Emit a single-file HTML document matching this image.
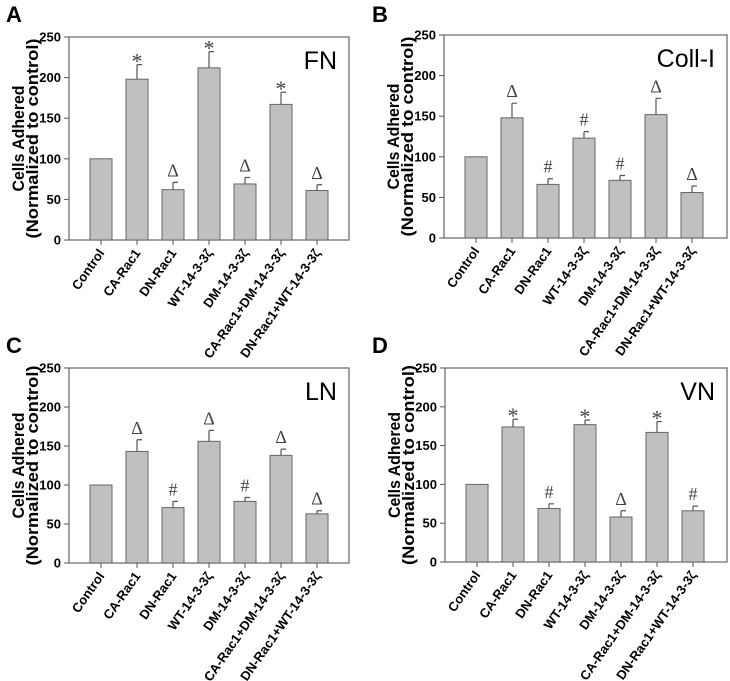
<!DOCTYPE html>
<html><head><meta charset="utf-8">
<style>
body{margin:0;background:#fff;}
svg{display:block;font-family:"Liberation Sans",Arial,sans-serif;}
</style></head>
<body>
<svg id="fig" width="730" height="681" viewBox="0 0 730 681"></svg>
<script>
const categories=["Control","CA-Rac1","DN-Rac1","WT-14-3-3ζ","DM-14-3-3ζ","CA-Rac1+DM-14-3-3ζ","DN-Rac1+WT-14-3-3ζ"];
const valuesA=[100,198,62,212,69,167,61];
const errorsA=[0,18,9,20,8,15,7];
const marksA=["","*","Δ","*","Δ","*","Δ"];
const valuesB=[100,148,66,123,71,152,56];
const errorsB=[0,18,7,8,6,20,8];
const marksB=["","Δ","#","#","#","Δ","Δ"];
const valuesC=[100,143,71,156,79,138,63];
const errorsC=[0,15,8,14,5,8,4];
const marksC=["","Δ","#","Δ","#","Δ","Δ"];
const valuesD=[100,174,69,177,58,167,66];
const errorsD=[0,10,6,6,8,14,6];
const marksD=["","*","#","*","Δ","*","#"];
const yTicks=[0,50,100,150,200,250];

const NS="http://www.w3.org/2000/svg";
const svg=document.getElementById('fig');
function mk(tag,attrs,parent,text){const e=document.createElementNS(NS,tag);for(const k in attrs)e.setAttribute(k,attrs[k]);if(text!==undefined)e.textContent=text;(parent||svg).appendChild(e);return e;}

const panels=[
 {id:"a",letter:"A",lx:6,ly:22,x0:69,x1:349,y0:37,y1:240,vals:valuesA,errs:errorsA,marks:marksA,label:"FN"},
 {id:"b",letter:"B",lx:372,ly:22,x0:444,x1:727,y0:35,y1:238,vals:valuesB,errs:errorsB,marks:marksB,label:"Coll-I"},
 {id:"c",letter:"C",lx:6,ly:353,x0:69,x1:349,y0:368,y1:563,vals:valuesC,errs:errorsC,marks:marksC,label:"LN"},
 {id:"d",letter:"D",lx:372,ly:353,x0:445,x1:727,y0:368,y1:562,vals:valuesD,errs:errorsD,marks:marksD,label:"VN"}
];

panels.forEach(p=>{
 const g=mk('g',{});
 
 
 const y=v=>p.y1-(v/250)*(p.y1-p.y0);
 const xc=i=>p.x0+32+i*36;
 const L=mk('text',{x:p.lx,y:p.ly,'font-size':22,'font-weight':'bold'},g,p.letter);
 
 
 const box=mk('rect',{x:p.x0,y:p.y0,width:p.x1-p.x0,height:p.y1-p.y0,fill:'none',stroke:'#707070','stroke-width':1.3},g);
 
 
 yTicks.forEach(t=>{
  mk('line',{x1:p.x0-5,x2:p.x0,y1:y(t),y2:y(t),stroke:'#555'},g);
  const tt=mk('text',{x:p.x0-8,y:y(t)+4.5,'font-size':13,'font-weight':'bold','text-anchor':'end'},g,t);
  
  
 });
 const cy=(p.y0+p.y1)/2;
 const t1=mk('text',{x:0,y:0,'font-size':17,'font-weight':'bold','text-anchor':'middle',textLength:106,lengthAdjust:'spacingAndGlyphs',transform:`translate(${p.x0-45},${cy}) rotate(-90)`},g,"Cells Adhered");
 
 
 const t2=mk('text',{x:0,y:0,'font-size':17,'font-weight':'bold','text-anchor':'middle',textLength:200,lengthAdjust:'spacingAndGlyphs',transform:`translate(${p.x0-31},${cy}) rotate(-90)`},g,"(Normalized to control)");
 
 
 const lab=mk('text',{x:p.x1-12,y:p.y0+32,'font-size':25,'text-anchor':'end'},g,p.label);
 
 
 p.vals.forEach((v,i)=>{
  const cx=xc(i);
  const b=mk('rect',{x:cx-11,y:y(v),width:22,height:p.y1-y(v),fill:'#c0c0c0',stroke:'#666','stroke-width':1},g);
  
  
  const e=p.errs[i];
  if(e>0){
   const el=mk('path',{d:`M${cx},${y(v)} V${y(v+e)} M${cx},${y(v+e)} H${cx+5}`,stroke:'#555','stroke-width':1.2,fill:'none'},g);
   
   
  }
  mk('line',{x1:cx,x2:cx,y1:p.y1,y2:p.y1+5,stroke:'#555'},g);
  if(p.marks[i]){
   const m=p.marks[i];
   const my=y(v+e)-(m==='*'?4:6);
   const mt=mk('text',{x:cx,y:my+(m==='*'?8:0),'font-size':m==='*'?22:18,'text-anchor':'middle',fill:'#444','font-family':'"Liberation Serif",serif'},g,m);
   
   
  }
  const xl=mk('text',{x:0,y:0,'font-size':13,'font-weight':'bold','text-anchor':'end',transform:`translate(${cx+4},${p.y1+13}) rotate(-55)`},g,categories[i]);
  
  
 });
});
</script>
</body></html>
